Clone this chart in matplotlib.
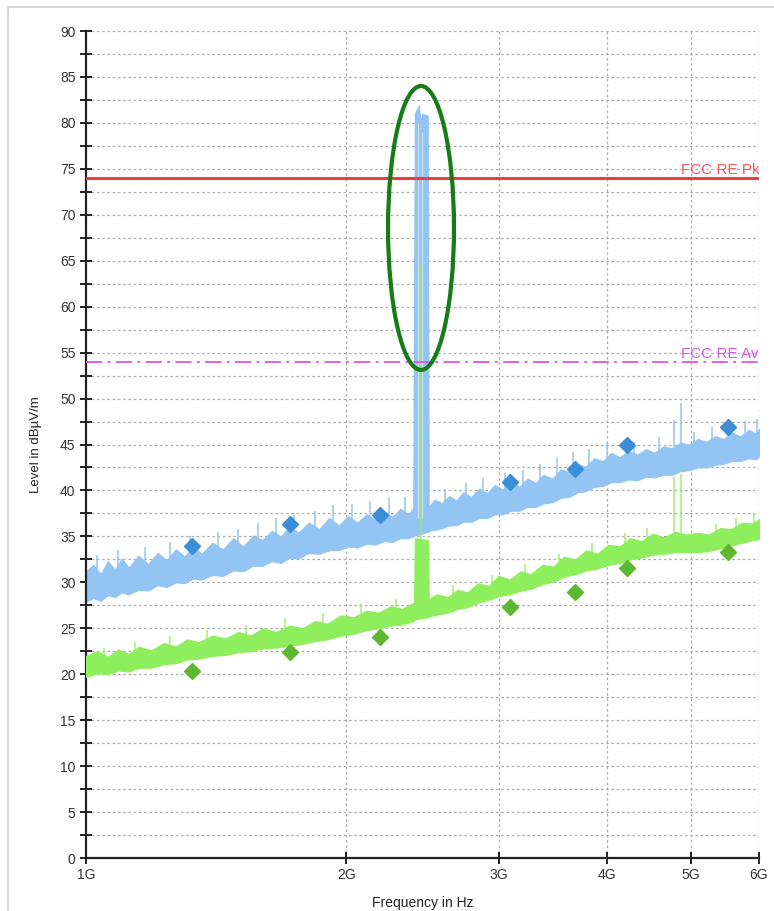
import matplotlib
matplotlib.use("Agg")
import matplotlib.pyplot as plt
from matplotlib.patches import Ellipse
from matplotlib.lines import Line2D

# ---------------- data (frequencies in GHz, levels in dBµV/m) ----------------
pk_freq = [1.00, 1.02, 1.04, 1.06, 1.08, 1.10, 1.12, 1.15, 1.18, 1.21, 1.24, 1.27,
           1.30, 1.33, 1.36, 1.40, 1.44, 1.48, 1.52, 1.56, 1.60, 1.64, 1.68, 1.72,
           1.76, 1.81, 1.86, 1.91, 1.96, 2.01, 2.06, 2.11, 2.16, 2.21, 2.26, 2.31,
           2.36, 2.39, 2.400, 2.425, 2.440, 2.446, 2.484, 2.490, 2.53, 2.58, 2.63,
           2.68, 2.73, 2.79, 2.85, 2.91, 2.97, 3.03, 3.10, 3.17, 3.24, 3.31, 3.38,
           3.46, 3.54, 3.62, 3.70, 3.78, 3.87, 3.96, 4.05, 4.14, 4.24, 4.34, 4.44,
           4.54, 4.65, 4.76, 4.87, 4.98, 5.10, 5.22, 5.34, 5.46, 5.58, 5.71, 5.84,
           5.95, 6.00]
pk_low = [27.9, 28.3, 28.0, 28.6, 28.4, 28.9, 28.7, 29.2, 29.1, 29.7, 29.5, 30.0,
          29.9, 30.4, 30.3, 30.8, 30.7, 31.3, 31.2, 31.8, 31.8, 32.3, 32.1, 32.7,
          32.6, 33.2, 33.1, 33.5, 33.5, 33.9, 33.8, 34.2, 34.1, 34.5, 34.4, 34.8,
          34.8, 35.0, 35.1, 35.2, 35.3, 35.3, 35.5, 35.6, 35.7, 35.9, 36.2,
          36.2, 36.6, 36.6, 37.0, 37.0, 37.4, 37.4, 37.8, 37.8, 38.2, 38.2, 38.6,
          38.7, 39.2, 39.3, 39.8, 39.9, 40.4, 40.5, 40.9, 40.9, 41.2, 41.1, 41.5,
          41.4, 41.7, 41.7, 42.1, 42.2, 42.5, 42.5, 42.8, 42.9, 43.2, 43.2, 43.5,
          43.4, 43.7]
pk_high = [31.2, 31.9, 30.9, 32.3, 31.4, 32.6, 31.6, 32.9, 32.0, 33.2, 32.4, 33.6,
           32.8, 33.9, 33.1, 34.3, 33.6, 34.8, 33.9, 35.1, 34.6, 35.6, 35.0, 36.1,
           35.4, 36.5, 35.8, 37.0, 36.2, 37.2, 36.5, 37.4, 36.8, 37.7, 37.1, 38.0,
           37.4, 38.1, 81.0, 81.9, 79.8, 81.0, 80.8, 38.2, 39.0, 38.6, 39.4,
           38.9, 39.8, 39.3, 40.2, 39.7, 40.6, 40.1, 41.0, 40.4, 41.3, 40.8, 41.7,
           41.3, 42.3, 42.0, 42.9, 42.6, 43.5, 43.2, 44.1, 43.6, 44.3, 43.9, 44.5,
           44.1, 44.8, 44.6, 45.2, 45.0, 45.6, 45.3, 45.9, 45.6, 46.3, 45.9, 46.6,
           46.2, 46.7]

av_freq = [1.00, 1.03, 1.06, 1.09, 1.12, 1.15, 1.19, 1.23, 1.27, 1.31, 1.35, 1.40,
           1.45, 1.50, 1.55, 1.60, 1.66, 1.72, 1.78, 1.84, 1.90, 1.97, 2.04, 2.11,
           2.18, 2.25, 2.32, 2.395, 2.400, 2.485, 2.490, 2.55, 2.62, 2.69, 2.76,
           2.84, 2.92, 3.00, 3.09, 3.18, 3.27, 3.37, 3.47, 3.57, 3.68, 3.79, 3.90,
           4.02, 4.14, 4.26, 4.39, 4.52, 4.66, 4.80, 4.95, 5.10, 5.25, 5.41, 5.57,
           5.74, 5.90, 6.00]
av_low = [19.7, 20.1, 20.0, 20.4, 20.3, 20.7, 20.7, 21.1, 21.2, 21.6, 21.7, 22.0,
          22.1, 22.4, 22.5, 22.8, 22.9, 23.1, 23.3, 23.6, 23.8, 24.2, 24.4, 24.8,
          25.0, 25.3, 25.4, 25.8, 26.0, 26.2, 26.3, 26.5, 26.7, 27.1, 27.3,
          27.8, 28.1, 28.5, 28.7, 29.1, 29.3, 29.8, 30.1, 30.6, 30.9, 31.3, 31.5,
          31.9, 32.1, 32.5, 32.7, 33.0, 33.1, 33.3, 33.3, 33.3, 33.4, 33.7, 34.0,
          34.3, 34.6, 34.7]
av_high = [22.0, 22.5, 21.9, 22.7, 22.2, 23.0, 22.6, 23.4, 23.0, 23.8, 23.5, 24.2,
           23.9, 24.6, 24.2, 25.0, 24.6, 25.3, 25.0, 25.8, 25.5, 26.4, 26.2, 26.9,
           26.7, 27.4, 27.1, 27.8, 34.8, 34.6, 28.2, 28.7, 28.4, 29.2, 28.9,
           29.9, 29.6, 30.7, 30.3, 31.2, 30.9, 31.9, 31.7, 32.8, 32.5, 33.5, 33.1,
           34.1, 33.9, 34.8, 34.5, 35.3, 34.9, 35.5, 35.2, 35.4, 35.2, 35.9, 35.8,
           36.5, 36.4, 36.9]

# narrow spikes / hairs: frequency, bottom, top
pk_spike_f = [1.03, 1.09, 1.17, 1.25, 1.32, 1.42, 1.50, 1.58, 1.66, 1.74, 1.84,
              1.93, 2.03, 2.13, 2.24, 2.34, 2.60, 2.75, 2.88, 3.05, 3.20, 3.35,
              3.50, 3.66, 3.82, 4.00, 4.30, 4.60, 4.79, 4.88, 5.05, 5.30, 5.52,
              5.78, 5.97]
pk_spike_lo = [29.6, 30.2, 30.7, 31.3, 31.7, 32.4, 32.9, 33.4, 33.8, 34.2, 34.6,
               35.0, 35.2, 35.6, 35.9, 36.3, 37.5, 38.0, 38.4, 39.0, 39.5, 40.0,
               40.5, 41.0, 41.6, 42.2, 42.8, 43.0, 43.3, 43.5, 43.8, 44.1, 44.5,
               44.8, 44.9]
pk_spike_hi = [33.0, 33.5, 33.8, 34.4, 35.0, 35.5, 35.8, 36.5, 37.0, 37.3, 37.8,
               38.4, 38.5, 38.9, 39.2, 39.3, 40.2, 40.8, 41.3, 41.9, 42.2, 42.9,
               43.5, 44.2, 44.5, 45.2, 45.3, 45.8, 47.7, 49.5, 46.4, 46.9, 47.3,
               47.6, 47.8]
av_spike_f = [1.05, 1.14, 1.25, 1.38, 1.53, 1.70, 1.88, 2.08, 2.28, 2.441, 2.66,
              2.95, 3.22, 3.52, 3.85, 4.20, 4.45, 4.79, 4.88, 5.35, 5.65, 5.92]
av_spike_lo = [21.0, 21.6, 22.2, 22.9, 23.5, 24.1, 24.8, 25.7, 26.4, 34.0, 28.0,
               29.3, 30.2, 31.4, 32.5, 33.5, 33.9, 34.4, 34.4, 34.7, 35.2, 35.7]
av_spike_hi = [22.9, 23.5, 24.2, 24.8, 25.4, 26.1, 26.7, 27.6, 28.2, 64.5, 29.7,
               30.8, 32.0, 33.1, 34.3, 35.4, 35.9, 41.5, 41.8, 36.4, 37.0, 37.5]

# final measurement points
meas_freq = [1.325, 1.72, 2.19, 3.09, 3.68, 4.22, 5.52]
meas_pk = [34.0, 36.4, 37.3, 40.9, 42.3, 45.0, 46.9]
meas_av = [20.3, 22.4, 24.0, 27.3, 28.9, 31.6, 33.3]

limit_pk = 74.0
limit_av = 54.0
limit_pk_label = "FCC RE Pk"
limit_av_label = "FCC RE Av"

x_ticks = [1, 2, 3, 4, 5, 6]
x_labels = ["1G", "2G", "3G", "4G", "5G", "6G"]
y_major = list(range(0, 91, 5))
y_minor = [v + 2.5 for v in range(0, 90, 5)]

# ---------------- figure ----------------
plt.rcParams['font.family'] = ['Liberation Sans', 'DejaVu Sans']
fig = plt.figure(figsize=(7.74, 9.11), dpi=100)
fig.patch.set_facecolor('white')
ax = fig.add_axes([86/774, 1 - 858/911, (759-86)/774, (858-31)/911])

# outer light frame
fig.add_artist(Line2D([8/774, 8/774], [0, 1 - 7/911], color='#d6d6d6', lw=1.5,
                      transform=fig.transFigure))
fig.add_artist(Line2D([8/774, 1], [1 - 7/911, 1 - 7/911], color='#d6d6d6', lw=1.5,
                      transform=fig.transFigure))

ax.set_xscale('log')
ax.set_xlim(1, 6)
ax.set_ylim(0, 90)

# grid
grid_kw = dict(color='#ababab', lw=0.9, ls=(0, (2, 2.2)), zorder=0)
for v in y_major + y_minor:
    if v > 0:
        ax.axhline(v, **grid_kw)
for f in x_ticks[1:]:
    ax.axvline(f, **grid_kw)

# traces
blue_trace = '#93c4f3'
green_trace = '#8eee5c'
ax.fill_between(pk_freq, pk_low, pk_high, color=blue_trace, lw=0.8,
                edgecolor=blue_trace, zorder=2)
ax.vlines(pk_spike_f, pk_spike_lo, pk_spike_hi, color=blue_trace, lw=1.1, zorder=2)
# light gaps inside the 2.4 GHz block
ax.vlines([2.418, 2.446], [37.0, 37.0], [80.0, 79.0], color='#cfe3f7', lw=0.9, zorder=2)

ax.fill_between(av_freq, av_low, av_high, color=green_trace, lw=0.8,
                edgecolor=green_trace, zorder=3)
ax.vlines(av_spike_f, av_spike_lo, av_spike_hi, color=green_trace, lw=1.1,
          alpha=0.85, zorder=3)

# limit lines
ax.axhline(limit_pk, color='#ee3b3b', lw=2.2, zorder=4)
ax.axhline(limit_av, color='#e050e0', lw=1.3, ls=(0, (9, 3, 1.5, 3)), zorder=4)
ax.text(4.88, limit_pk + 0.1, limit_pk_label, color='#f05a5a', fontsize=11,
        va='bottom', ha='left', clip_on=True, zorder=5)
ax.text(4.88, limit_av + 0.1, limit_av_label, color='#e055e0', fontsize=11,
        va='bottom', ha='left', clip_on=True, zorder=5)

# measurement points
ax.plot(meas_freq, meas_pk, ls='none', marker='D', ms=7.8, color='#3b8ed6',
        mec='#3b8ed6', zorder=6, clip_on=False)
ax.plot(meas_freq, meas_av, ls='none', marker='D', ms=7.8, color='#5cb831',
        mec='#5cb831', zorder=6, clip_on=False)

# highlight ellipse
ax.add_patch(Ellipse((0.4978, 0.7618), 0.098, 0.3434, transform=ax.transAxes,
                     fill=False, edgecolor='#167d16', lw=3.0, zorder=7))

# axes styling
for s in ['top', 'right']:
    ax.spines[s].set_visible(False)
for s in ['left', 'bottom']:
    ax.spines[s].set_color('#222222')
    ax.spines[s].set_linewidth(1.6)

ax.set_xticks(x_ticks)
ax.set_xticklabels(x_labels)
ax.xaxis.set_minor_locator(matplotlib.ticker.NullLocator())
ax.set_yticks(y_major)
ax.set_yticks(y_minor, minor=True)
ax.tick_params(axis='both', which='major', direction='inout', length=9, width=1.4,
               color='#222222', labelsize=10, labelcolor='#333333', pad=3)
ax.tick_params(axis='y', which='minor', direction='inout', length=9, width=1.4,
               color='#222222')

ax.set_xlabel("Frequency in Hz", fontsize=10, color='#222222', labelpad=10)
ax.set_ylabel("Level in dBµV/m", fontsize=9.5, color='#222222', labelpad=13)

fig.savefig("out.png", dpi=100, facecolor='white')
